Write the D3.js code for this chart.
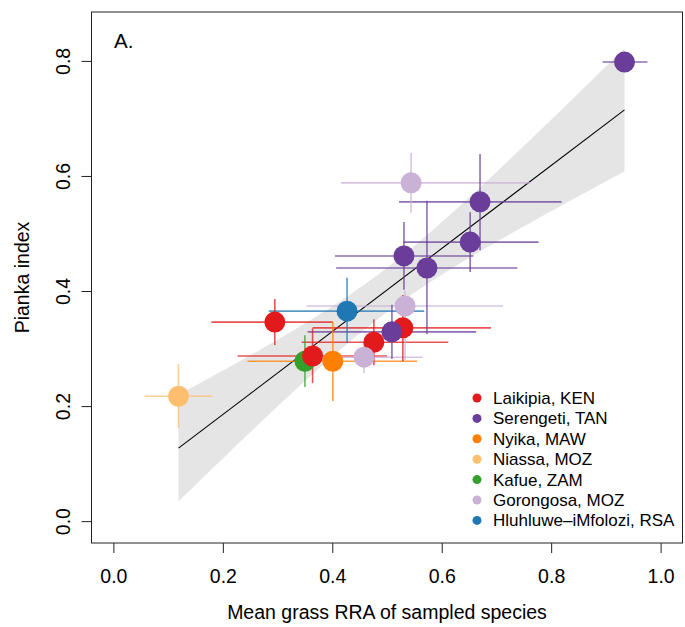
<!DOCTYPE html>
<html>
<head>
<meta charset="utf-8">
<script src="https://cdn.jsdelivr.net/npm/d3@7/dist/d3.min.js"></script>
<style>
  html, body { margin: 0; padding: 0; background: #fff; }
  svg { display: block; }
  text { font-family: "Liberation Sans", Arial, Helvetica, sans-serif; fill: #000; }
</style>
</head>
<body>
<svg id="chart" width="685" height="627"></svg>
<script>
// ---- data ----
const sites = ["Laikipia, KEN", "Serengeti, TAN", "Nyika, MAW", "Niassa, MOZ", "Kafue, ZAM", "Gorongosa, MOZ", "Hluhluwe\u2013iMfolozi, RSA"];
const siteColors = ["#E31A1C", "#6A3D9A", "#FF7F00", "#FDBF6F", "#33A02C", "#CAB2D6", "#1F78B4"];

// one entry per sampled species/site point
const pointSite = [4, 3, 2, 6, 0, 0, 0, 0, 5, 5, 5, 1, 1, 1, 1, 1, 1];
const grassRRA  = [0.350, 0.119, 0.401, 0.427, 0.529, 0.476, 0.295, 0.364, 0.544, 0.533, 0.458, 0.934, 0.670, 0.652, 0.531, 0.573, 0.509];
const rraLow    = [0.340, 0.057, 0.245, 0.284, 0.364, 0.344, 0.179, 0.227, 0.416, 0.353, 0.375, 0.894, 0.522, 0.530, 0.405, 0.407, 0.355];
const rraHigh   = [0.360, 0.181, 0.555, 0.568, 0.690, 0.612, 0.401, 0.500, 0.762, 0.712, 0.565, 0.976, 0.819, 0.777, 0.658, 0.738, 0.663];
const pianka    = [0.278, 0.217, 0.278, 0.365, 0.336, 0.311, 0.346, 0.287, 0.588, 0.374, 0.285, 0.798, 0.555, 0.485, 0.461, 0.440, 0.329];
const piankaLow = [0.233, 0.162, 0.209, 0.310, 0.278, 0.271, 0.306, 0.240, 0.536, 0.280, 0.257, 0.788, 0.471, 0.433, 0.402, 0.325, 0.282];
const piankaHigh= [0.323, 0.273, 0.346, 0.423, 0.393, 0.351, 0.386, 0.335, 0.640, 0.400, 0.310, 0.808, 0.638, 0.537, 0.520, 0.557, 0.376];

const xTicks = [0.0, 0.2, 0.4, 0.6, 0.8, 1.0];
const yTicks = [0.0, 0.2, 0.4, 0.6, 0.8];
const tQuantile = 2.131; // t(0.975, df = 15)

// ---- setup ----
const svg = d3.select("#chart");
const x = d3.scaleLinear().domain([-0.04, 1.04]).range([91.5, 682.5]);
const y = d3.scaleLinear().domain([-0.038, 0.885]).range([543, 12]);

const pts = grassRRA.map((v, i) => ({
  x: v, y: pianka[i], x0: rraLow[i], x1: rraHigh[i], y0: piankaLow[i], y1: piankaHigh[i],
  c: siteColors[pointSite[i]]
}));

// ---- linear regression with 95% confidence band ----
const n = grassRRA.length;
const mx = d3.mean(grassRRA), my = d3.mean(pianka);
const sxx = d3.sum(grassRRA, v => (v - mx) ** 2);
const sxy = d3.sum(grassRRA, (v, i) => (v - mx) * (pianka[i] - my));
const slope = sxy / sxx, intercept = my - slope * mx;
const rss = d3.sum(grassRRA, (v, i) => (pianka[i] - (intercept + slope * v)) ** 2);
const sres = Math.sqrt(rss / (n - 2));
const xmin = d3.min(grassRRA), xmax = d3.max(grassRRA);
const band = d3.range(0, 101).map(k => {
  const xv = xmin + (xmax - xmin) * k / 100;
  const fit = intercept + slope * xv;
  const hw = tQuantile * sres * Math.sqrt(1 / n + (xv - mx) ** 2 / sxx);
  return { x: xv, lo: fit - hw, hi: fit + hw, fit };
});

svg.append("path")
  .datum(band)
  .attr("d", d3.area().x(d => x(d.x)).y0(d => y(d.lo)).y1(d => y(d.hi)))
  .attr("fill", "#E5E5E5");

svg.append("line")
  .attr("x1", x(xmin)).attr("y1", y(intercept + slope * xmin))
  .attr("x2", x(xmax)).attr("y2", y(intercept + slope * xmax))
  .attr("stroke", "#000").attr("stroke-width", 1.1);

// ---- error bars ----
const eb = svg.append("g").attr("stroke-width", 1.6).attr("stroke-opacity", 0.75);
eb.selectAll("line.h").data(pts).join("line")
  .attr("x1", d => x(d.x0)).attr("x2", d => x(d.x1))
  .attr("y1", d => y(d.y)).attr("y2", d => y(d.y))
  .attr("stroke", d => d.c);
eb.selectAll("line.v").data(pts).join("line")
  .attr("x1", d => x(d.x)).attr("x2", d => x(d.x))
  .attr("y1", d => y(d.y0)).attr("y2", d => y(d.y1))
  .attr("stroke", d => d.c);

// ---- points ----
svg.append("g").selectAll("circle").data(pts).join("circle")
  .attr("cx", d => x(d.x)).attr("cy", d => y(d.y)).attr("r", 10.5)
  .attr("fill", d => d.c);

// ---- box ----
svg.append("rect").attr("x", 91.5).attr("y", 12).attr("width", 591).attr("height", 531)
  .attr("fill", "none").attr("stroke", "#222").attr("stroke-width", 1);

// ---- axes ----
const xAxis = d3.axisBottom(x).tickValues(xTicks).tickFormat(d3.format(".1f")).tickSize(10).tickPadding(16);
const gx = svg.append("g").attr("transform", "translate(0,543)").call(xAxis);
gx.select(".domain").remove();
gx.selectAll(".tick line").attr("stroke", "#222");
gx.selectAll("text").attr("font-size", 19.5).attr("font-family", "Liberation Sans, Arial, sans-serif").attr("fill", "#000");

const yAxis = d3.axisLeft(y).tickValues(yTicks).tickFormat(d3.format(".1f")).tickSize(10);
const gy = svg.append("g").attr("transform", "translate(91.5,0)").call(yAxis);
gy.select(".domain").remove();
gy.selectAll(".tick line").attr("stroke", "#222");
gy.selectAll("text")
  .attr("font-size", 19.5).attr("font-family", "Liberation Sans, Arial, sans-serif").attr("fill", "#000")
  .attr("x", null).attr("dy", null)
  .attr("text-anchor", "middle")
  .attr("transform", "translate(-22,0) rotate(-90)")
  .attr("y", 0);

// axis titles
svg.append("text").attr("x", x(0.5)).attr("y", 619).attr("text-anchor", "middle")
  .attr("font-size", 19.5).text("Mean grass RRA of sampled species");
svg.append("text").attr("transform", `translate(29,${y(0.4235)}) rotate(-90)`).attr("text-anchor", "middle")
  .attr("font-size", 19.5).text("Pianka index");

// panel label
svg.append("text").attr("x", 114).attr("y", 47.5).attr("font-size", 20.5).text("A.");

// ---- legend ----
const lg = svg.append("g").attr("transform", "translate(477,398)");
const rows = lg.selectAll("g").data(sites).join("g").attr("transform", (d, i) => `translate(0,${i * 20.4})`);
rows.append("circle").attr("r", 4.5).attr("fill", (d, i) => siteColors[i]);
rows.append("text").attr("x", 16).attr("y", 6).attr("font-size", 17).text(d => d);
</script>
</body>
</html>
